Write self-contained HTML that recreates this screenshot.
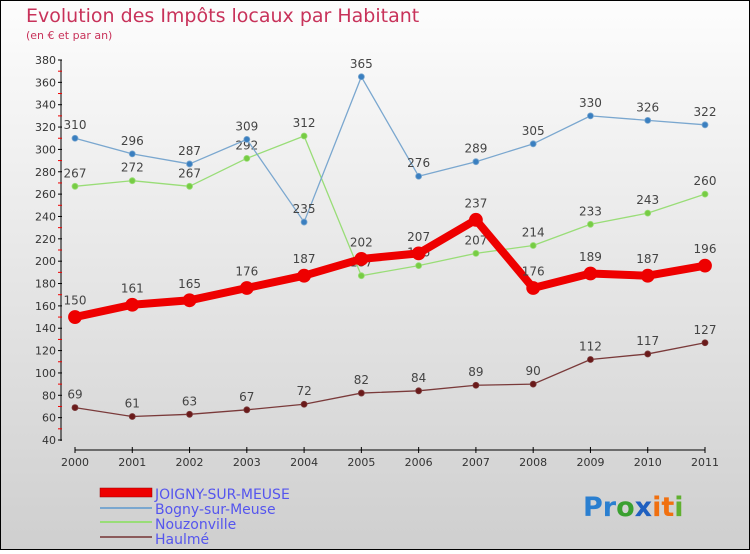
<!DOCTYPE html>
<html><head><meta charset="utf-8"><style>
body{margin:0}
#c{width:750px;height:550px;position:relative;font-family:"DejaVu Sans","Liberation Sans",sans-serif}
</style></head><body>
<div id="c">
<svg id="s" width="750" height="550" xmlns="http://www.w3.org/2000/svg">
<defs><linearGradient id="bg" x1="0" y1="0" x2="0" y2="1"><stop offset="0" stop-color="#fdfdfd"/><stop offset="1" stop-color="#cfcfcf"/></linearGradient></defs>
<rect x="0.5" y="0.5" width="749" height="549" fill="url(#bg)" stroke="#000"/>
<text x="26" y="22" font-size="19" fill="#c8325a">Evolution des Impôts locaux par Habitant</text>
<text x="26" y="39" font-size="11" fill="#c8325a">(en € et par an)</text>
<g id="axes"></g><g id="series"></g>
<g>
<rect x="100" y="488" width="52" height="9" fill="#e00" stroke="#900" stroke-width="0.5"/>
<text x="155" y="499" font-size="14" fill="#5555ee">JOIGNY-SUR-MEUSE</text>
<line x1="100" y1="508" x2="152" y2="508" stroke="#7aa7cf" stroke-width="2"/>
<text x="155" y="514" font-size="14" fill="#5555ee">Bogny-sur-Meuse</text>
<line x1="100" y1="522" x2="152" y2="522" stroke="#99dd77" stroke-width="2"/>
<text x="155" y="529" font-size="14" fill="#5555ee">Nouzonville</text>
<line x1="100" y1="537" x2="152" y2="537" stroke="#8b5a5a" stroke-width="2"/>
<text x="155" y="544" font-size="14" fill="#5555ee">Haulmé</text>
</g>
<text x="583" y="516" font-size="27" font-weight="bold"><tspan fill="#2a7fd0">Pr</tspan><tspan fill="#3aa030">o</tspan><tspan fill="#2060c0">x</tspan><tspan fill="#f07010">it</tspan><tspan fill="#60b030">i</tspan></text>
</svg>
</div>
<script>
const years=["2000","2001","2002","2003","2004","2005","2006","2007","2008","2009","2010","2011"];
const yTicks=[40,60,80,100,120,140,160,180,200,220,240,260,280,300,320,340,360,380];
const joigny=[150,161,165,176,187,202,207,237,176,189,187,196];
const bogny=[310,296,287,309,235,365,276,289,305,330,326,322];
const nouzon=[267,272,267,292,312,187,196,207,214,233,243,260];
const haulme=[69,61,63,67,72,82,84,89,90,112,117,127];
const NS="http://www.w3.org/2000/svg";
const X=i=>75+i*630/11;
const Y=v=>440-(v-40)*380/340;
function mk(t,a,p){const e=document.createElementNS(NS,t);for(const k in a)e.setAttribute(k,a[k]);p.appendChild(e);return e;}
const ax=document.getElementById('axes');
mk('line',{x1:61,y1:60,x2:61,y2:441,stroke:'#000'},ax);
mk('line',{x1:75,y1:450,x2:705,y2:450,stroke:'#000'},ax);
yTicks.forEach(v=>{mk('line',{x1:58,y1:Y(v),x2:62,y2:Y(v),stroke:'#000'},ax);
 if(v<380)mk('line',{x1:58,y1:Y(v+10),x2:62,y2:Y(v+10),stroke:'#e00'},ax);
 const t=mk('text',{x:56,y:Y(v)+4,'font-size':11,fill:'#333','text-anchor':'end'},ax);t.textContent=v;
 });
years.forEach((y,i)=>{mk('line',{x1:X(i),y1:447,x2:X(i),y2:453,stroke:'#000'},ax);
 const t=mk('text',{x:X(i),y:466,'font-size':11,fill:'#333','text-anchor':'middle'},ax);t.textContent=y;
 });
const sg=document.getElementById('series');
function series(d,col,dot,w,r,name){const g=mk('g',{},sg);
 
 mk('polyline',{points:d.map((v,i)=>X(i)+','+Y(v)).join(' '),fill:'none',stroke:col,'stroke-width':w,'stroke-linejoin':'round'},g);
 d.forEach((v,i)=>{const c=mk('circle',{cx:X(i),cy:Y(v),r:r,fill:dot,stroke:col,'stroke-width':0.8},g);
  
  const t=mk('text',{x:X(i),y:Y(v)-(r+6),'font-size':12,fill:'#444','text-anchor':'middle'},g);t.textContent=v;
  });}
series(haulme,'#7a3a3a','#6a1a1a',1.3,3,'haulme-line');
series(nouzon,'#99dd77','#77cc44',1.3,3,'nouzonville-line');
series(bogny,'#7aa7cf','#3a7fc0',1.3,3,'bogny-line');
series(joigny,'#ee0000','#ee0000',8,6.5,'joigny-line');
</script>
</body></html>
